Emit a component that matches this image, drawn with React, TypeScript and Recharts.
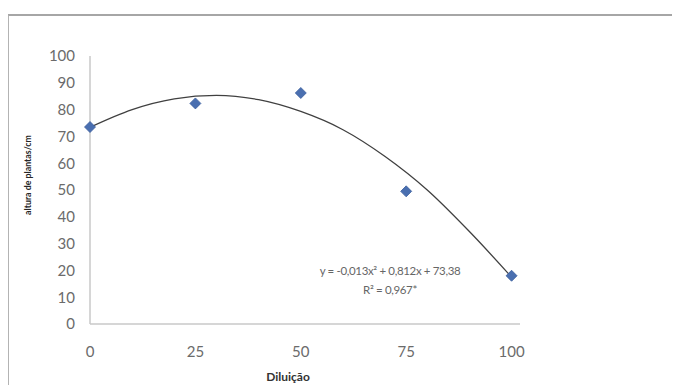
import React from 'react';
import { ComposedChart, XAxis, YAxis, Scatter, Line } from 'recharts';

const diluicao = [0, 25, 50, 75, 100];
const altura = [73.5, 82.3, 86.2, 49.5, 18.0];

// trendline
const trendX = [0, 10, 20, 30, 40, 50, 60, 70, 80, 90, 100];
const trendY = [73.4, 80.0, 84.0, 85.3, 83.7, 79.3, 72.5, 62.5, 50.0, 34.5, 17.5];

const xTicks = [0, 25, 50, 75, 100];
const yTicks = [0, 10, 20, 30, 40, 50, 60, 70, 80, 90, 100];

const points = diluicao.map((x, i) => ({ x, y: altura[i] }));
const trend = trendX.map((x, i) => ({ x, y: trendY[i] }));

const Diamond = (props: any) => {
  const { cx, cy } = props;
  const r = 5.5;
  return (
    <polygon
      points={`${cx},${cy - r} ${cx + r},${cy} ${cx},${cy + r} ${cx - r},${cy}`}
      fill="#4a6fb0"
      stroke="#3c5f9e"
      strokeWidth={0.8}
    />
  );
};

const tickStyle = { fill: '#6b6b6b', fontSize: 15, fontFamily: 'Lato' };

export default function App() {
  return (
    <div style={{ position: 'relative', width: 672, height: 377, overflow: 'hidden', background: '#fff' }}>
      <div
        style={{
          position: 'absolute',
          left: -1,
          top: 6,
          width: 720,
          height: 420,
          borderTop: '2px solid #a6a6a6',
          borderLeft: '2px solid #b3b3b3',
          boxSizing: 'border-box',
        }}
      />
      <ComposedChart
        width={672}
        height={377}
        margin={{ top: 48, right: 160, bottom: 21, left: 0 }}
        style={{ position: 'absolute', left: 0, top: 0 }}
      >
        <XAxis
          type="number"
          dataKey="x"
          domain={[0, 102]}
          ticks={xTicks}
          tickLine={false}
          tickSize={0}
          tickMargin={22}
          height={40}
          axisLine={{ stroke: '#c8c8c8', strokeWidth: 1.5 }}
          tick={tickStyle}
          allowDecimals={false}
        />
        <YAxis
          type="number"
          dataKey="y"
          domain={[0, 100]}
          ticks={yTicks}
          tickLine={false}
          tickSize={0}
          tickMargin={15}
          width={82}
          axisLine={{ stroke: '#c8c8c8', strokeWidth: 1.5 }}
          tick={tickStyle}
        />
        <Line
          data={trend}
          dataKey="y"
          type="monotone"
          stroke="#404040"
          strokeWidth={1.3}
          dot={false}
          activeDot={false}
          isAnimationActive={false}
        />
        <Scatter data={points} dataKey="y" shape={<Diamond />} isAnimationActive={false} />
      </ComposedChart>
      <div
        style={{
          position: 'absolute',
          left: 19,
          top: 167,
          transform: 'translate(-50%, -50%) rotate(-90deg)',
          fontFamily: 'Lato',
          fontWeight: 'bold',
          fontSize: 8.8,
          color: '#262626',
          whiteSpace: 'nowrap',
        }}
      >
        altura de plantas/cm
      </div>
      <div
        style={{
          position: 'absolute',
          left: 280,
          top: 368,
          transform: 'translate(-50%, -50%)',
          fontFamily: 'Lato',
          fontWeight: 'bold',
          fontSize: 12,
          color: '#333',
          whiteSpace: 'nowrap',
        }}
      >
        Diluição
      </div>
      <div
        style={{
          position: 'absolute',
          left: 382,
          top: 272,
          transform: 'translate(-50%, -50%)',
          fontFamily: 'Lato',
          fontSize: 11.5,
          letterSpacing: -0.35,
          color: '#666',
          whiteSpace: 'nowrap',
          textAlign: 'center',
          lineHeight: '19px',
        }}
      >
        y = -0,013x² + 0,812x + 73,38
        <br />
        R² = 0,967*
      </div>
    </div>
  );
}
